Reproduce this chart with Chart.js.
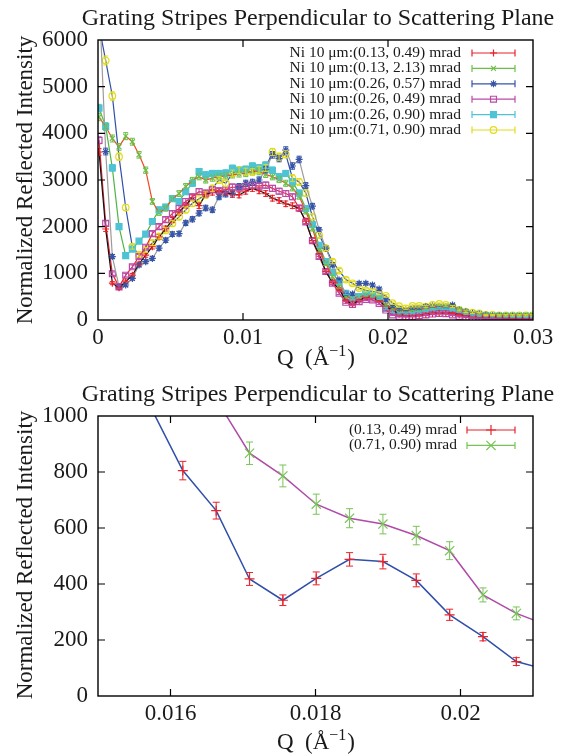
<!DOCTYPE html>
<html>
<head>
<meta charset="utf-8">
<script src="https://cdn.jsdelivr.net/npm/chart.js@4/dist/chart.umd.min.js"></script>
<style>
  html, body { margin: 0; padding: 0; background: #fff; }
  #wrap { position: relative; width: 567px; height: 754px; }
  .panel { position: absolute; left: 0; width: 567px; height: 377px; }
</style>
</head>
<body>
<div id="wrap">
  <div class="panel" style="top:0"><canvas id="overview" width="567" height="377"></canvas></div>
  <div class="panel" style="top:377px"><canvas id="detail" width="567" height="377"></canvas></div>
</div>
<script>
// ---- momentum transfer grid (1/Å) ----
const qGrid = [
  0.00007, 0.00053, 0.00099, 0.00145, 0.00191, 0.00237, 0.00283, 0.00329, 0.00375, 0.00421,
  0.00467, 0.00513, 0.00559, 0.00605, 0.00651, 0.00697, 0.00743, 0.00789, 0.00835, 0.00881,
  0.00927, 0.00973, 0.01019, 0.01065, 0.01111, 0.01157, 0.01203, 0.01249, 0.01295, 0.01341,
  0.01387, 0.01433, 0.01479, 0.01525, 0.01571, 0.01617, 0.01663, 0.01709, 0.01755, 0.01801,
  0.01847, 0.01893, 0.01939, 0.01985, 0.02031, 0.02077, 0.02123, 0.02169, 0.02215, 0.02261,
  0.02307, 0.02353, 0.02399, 0.02445, 0.02491, 0.02537, 0.02583, 0.02629, 0.02675, 0.02721,
  0.02767, 0.02813, 0.02859, 0.02905, 0.02951, 0.02997
];

// ---- normalized reflected intensity, one list per slit setting ----
const ni_013_049 = [
  3600, 1950, 790, 690, 820, 960, 1200, 1390, 1570, 1780,
  1960, 2140, 2310, 2460, 2620, 2450, 2690, 2740, 2750, 2740,
  2690, 2680, 2760, 2820, 2770, 2710, 2610, 2560, 2490, 2450,
  2390, 2120, 1700, 1410, 1040, 805, 662, 418, 342, 420,
  488, 480, 413, 290, 212, 123, 92, 90, 100, 120,
  140, 150, 150, 140, 115, 92, 78, 70, 64, 60,
  55, 52, 48, 45, 44, 42
];
const ni_013_213 = [
  4350, 4140, 3890, 3710, 3940, 3820, 3540, 3210, 2540, 2300,
  2390, 2600, 2710, 2860, 2990, 3070, 3000, 3040, 3070, 3090,
  3110, 3130, 3140, 3200, 3180, 3120, 3070, 3010, 2930, 2830,
  2650, 2330, 1960, 1500, 1210, 930, 714, 500, 464, 500,
  536, 514, 464, 321, 250, 214, 200, 214, 229, 250,
  271, 286, 300, 286, 229, 179, 143, 128, 115, 110,
  107, 105, 105, 107, 107, 107
];
const ni_026_057 = [
  7000, 3610, 1360, 714, 750, 890, 1180, 1250, 1320, 1540,
  1710, 1840, 1850, 2080, 2160, 2290, 2400, 2360, 2640, 2700,
  2720, 2860, 2930, 2950, 3000, 3220, 3540, 3460, 3640, 3300,
  3440, 2880, 2440, 1930, 1540, 1180, 857, 557, 557, 786,
  786, 750, 664, 429, 286, 229, 214, 250, 250, 286,
  300, 286, 286, 321, 214, 179, 143, 129, 107, 93,
  90, 85, 85, 80, 80, 80
];
const ni_026_049 = [
  3850, 2070, 990, 710, 960, 1140, 1360, 1560, 1850, 2000,
  2150, 2280, 2390, 2540, 2640, 2750, 2720, 2790, 2770, 2790,
  2850, 2830, 2860, 2890, 2870, 2890, 2820, 2760, 2710, 2640,
  2400, 2100, 1700, 1360, 1040, 790, 575, 380, 336, 393,
  443, 430, 357, 214, 110, 75, 72, 75, 95, 108,
  128, 140, 138, 108, 75, 60, 40, 36, 30, 25,
  18, 15, 15, 18, 20, 22
];
const ni_026_090 = [
  4540, 4150, 3260, 2000, 1380, 1520, 1690, 1840, 2110, 2360,
  2420, 2600, 2540, 2750, 2930, 3180, 3110, 3140, 3140, 3150,
  3250, 3210, 3230, 3300, 3260, 3320, 3210, 3070, 3140, 2960,
  2720, 2390, 2040, 1600, 1250, 1020, 800, 571, 464, 500,
  557, 536, 464, 250, 179, 143, 140, 150, 170, 200,
  230, 250, 240, 215, 180, 130, 100, 90, 80, 75,
  72, 70, 68, 66, 65, 65
];
const ni_071_090 = [
  6300, 5560, 4800, 3500, 2410, 1570, 1400, 1500, 1650, 1790,
  1920, 2070, 2210, 2360, 2500, 2600, 2680, 2820, 3000, 2930,
  3140, 3210, 3180, 3170, 3220, 3260, 3600, 3500, 3550, 3040,
  2960, 2720, 2210, 1820, 1540, 1250, 1060, 867, 786, 685,
  635, 614, 573, 519, 361, 295, 250, 300, 300, 286,
  321, 343, 321, 286, 214, 179, 157, 143, 107, 107,
  100, 100, 100, 100, 100, 100
];
const overviewLabels = [
  'Ni 10 μm:(0.13, 0.49) mrad',
  'Ni 10 μm:(0.13, 2.13) mrad',
  'Ni 10 μm:(0.26, 0.57) mrad',
  'Ni 10 μm:(0.26, 0.49) mrad',
  'Ni 10 μm:(0.26, 0.90) mrad',
  'Ni 10 μm:(0.71, 0.90) mrad'
];
// counting-statistics sigma factor per setting (sigma = k * sqrt(I))
const overviewSigmaFactor = [1.2, 1.2, 1.2, 1.2, 1.2, 1.3];

// ---- close-up of the Kiessig region ----
const detailQ = [0.01571, 0.01617, 0.01663, 0.01709, 0.01755, 0.01801, 0.01847, 0.01893, 0.01939, 0.01985, 0.02031, 0.02077, 0.02123];
const detailNarrow = [1040, 805, 662, 418, 342, 420, 488, 480, 413, 290, 212, 123, 92];
const detailNarrowErr = [38, 33, 30, 23, 19, 23, 24, 26, 23, 20, 15, 14, 12];
const detailWide = [1540, 1250, 1060, 867, 786, 685, 635, 614, 573, 519, 361, 295, 250];
const detailWideErr = [52, 48, 44, 40, 39, 36, 34, 35, 33, 32, 25, 23, 21];
const detailLabels = ['(0.13, 0.49) mrad', '(0.71, 0.90) mrad'];

// ---- axis ticks ----
const overviewXTicks = [0, 0.01, 0.02, 0.03];
const overviewXTickLabels = ['0', '0.01', '0.02', '0.03'];
const overviewYTicks = [0, 1000, 2000, 3000, 4000, 5000, 6000];
const overviewYTickLabels = ['0', '1000', '2000', '3000', '4000', '5000', '6000'];
const detailXTicks = [0.016, 0.018, 0.02];
const detailXTickLabels = ['0.016', '0.018', '0.02'];
const detailYTicks = [0, 200, 400, 600, 800, 1000];
const detailYTickLabels = ['0', '200', '400', '600', '800', '1000'];

const plotTitle = 'Grating Stripes Perpendicular to Scattering Plane';
const yAxisTitle = 'Normalized Reflected Intensity';

// ---------------------------------------------------------------
const serif = "'Liberation Serif', 'DejaVu Serif', serif";

const overviewStyles = [
  { marker: '#e8232b', line: '#111111', shape: 'cross',    fill: false, r: 3.5 },
  { marker: '#6dbe48', line: '#f04a1e', shape: 'crossRot', fill: false, r: 3.5 },
  { marker: '#3755a8', line: '#9b9b9b', shape: 'star',     fill: false, r: 3.5 },
  { marker: '#bb4ba8', line: '#ee2030', shape: 'rect',     fill: false, r: 4.2 },
  { marker: '#4ec3d4', line: '#4fb545', shape: 'rect',     fill: true,  r: 4.2 },
  { marker: '#e2dc1c', line: '#2f4fa8', shape: 'circle',   fill: false, r: 3.3 }
];
const detailStyles = [
  { marker: '#e8232b', line: '#2f4fa8', shape: 'cross',    fill: false, r: 5 },
  { marker: '#77c456', line: '#b04aa8', shape: 'crossRot', fill: false, r: 6.5 }
];

function makeDataset(label, xs, ys, errs, st, lw) {
  return {
    label,
    data: xs.map((q, i) => ({ x: q, y: ys[i] })),
    errors: errs,
    borderColor: st.line,
    borderWidth: lw,
    tension: 0,
    pointStyle: st.shape,
    pointRadius: st.r,
    pointBorderColor: st.marker,
    pointBackgroundColor: st.fill ? st.marker : 'rgba(0,0,0,0)',
    pointBorderWidth: 1.2
  };
}

function axis(min, max, ticks, labels, fitProp, fitSize, pad) {
  return {
    type: 'linear', min, max,
    grid: { display: false, drawTicks: false },
    border: { display: false },
    afterBuildTicks: s => { s.ticks = ticks.map(v => ({ value: v })); },
    afterFit: s => { s[fitProp] = fitSize; },
    ticks: {
      autoSkip: false, maxRotation: 0, minRotation: 0, padding: pad,
      color: '#1a1a1a', font: { family: serif, size: 23 },
      callback: (v, i) => labels[i]
    }
  };
}

// box, inward ticks, titles, error bars and key
const frame = {
  id: 'frame',
  afterDatasetsDraw(chart, args, o) {
    const { ctx, chartArea: a } = chart;
    const ys = chart.scales.y;
    ctx.save();
    ctx.beginPath();
    ctx.rect(a.left, a.top, a.right - a.left, a.bottom - a.top);
    ctx.clip();
    chart.data.datasets.forEach((ds, i) => {
      const meta = chart.getDatasetMeta(i);
      ctx.strokeStyle = ds.pointBorderColor;
      ctx.lineWidth = 1;
      meta.data.forEach((pt, j) => {
        const v = ds.data[j].y, e = ds.errors[j];
        const y1 = ys.getPixelForValue(v + e), y2 = ys.getPixelForValue(v - e);
        ctx.beginPath();
        ctx.moveTo(pt.x, y1); ctx.lineTo(pt.x, y2);
        ctx.moveTo(pt.x - o.cap, y1); ctx.lineTo(pt.x + o.cap, y1);
        ctx.moveTo(pt.x - o.cap, y2); ctx.lineTo(pt.x + o.cap, y2);
        ctx.stroke();
      });
    });
    ctx.restore();
  },
  afterDraw(chart, args, o) {
    const { ctx, chartArea: a } = chart;
    const xs = chart.scales.x, ys = chart.scales.y;
    ctx.save();
    // frame
    ctx.strokeStyle = '#000';
    ctx.lineWidth = 1.4;
    ctx.strokeRect(a.left, a.top, a.right - a.left, a.bottom - a.top);
    // inward tick marks, mirrored on the opposite side
    ctx.lineWidth = 1.2;
    const tl = 7;
    ctx.beginPath();
    xs.ticks.forEach(t => {
      const px = xs.getPixelForValue(t.value);
      if (px - a.left < 1 || a.right - px < 1) return;
      ctx.moveTo(px, a.bottom); ctx.lineTo(px, a.bottom - tl);
      ctx.moveTo(px, a.top); ctx.lineTo(px, a.top + tl);
    });
    ys.ticks.forEach(t => {
      const py = ys.getPixelForValue(t.value);
      if (py - a.top < 1 || a.bottom - py < 1) return;
      ctx.moveTo(a.left, py); ctx.lineTo(a.left + tl, py);
      ctx.moveTo(a.right, py); ctx.lineTo(a.right - tl, py);
    });
    ctx.stroke();

    ctx.fillStyle = '#1a1a1a';
    // plot title
    ctx.font = '24px ' + serif;
    ctx.textAlign = 'center';
    ctx.textBaseline = 'alphabetic';
    ctx.fillText(plotTitle, o.titleX, o.titleBase);

    // y axis title
    ctx.save();
    ctx.translate(o.yTitleX, o.yTitleY);
    ctx.rotate(-Math.PI / 2);
    ctx.font = '23px ' + serif;
    ctx.textBaseline = 'middle';
    ctx.fillText(yAxisTitle, 0, 0);
    ctx.restore();

    // x axis title: Q (Å^-1)
    const big = '23px ' + serif, small = '16px ' + serif;
    const p1 = 'Q  (Å', p2 = '−1', p3 = ')';
    ctx.font = big; const w1 = ctx.measureText(p1).width, w3 = ctx.measureText(p3).width;
    ctx.font = small; const w2 = ctx.measureText(p2).width;
    let x0 = (a.left + a.right) / 2 - (w1 + w2 + w3) / 2;
    ctx.textAlign = 'left';
    ctx.font = big; ctx.fillText(p1, x0, o.xTitleBase);
    ctx.font = small; ctx.fillText(p2, x0 + w1, o.xTitleBase - 9);
    ctx.font = big; ctx.fillText(p3, x0 + w1 + w2 + 1, o.xTitleBase);

    // key
    ctx.font = o.keyFont + 'px ' + serif;
    ctx.textBaseline = 'middle';
    chart.data.datasets.forEach((ds, i) => {
      const y = o.keyTop + i * o.keyStep;
      ctx.fillStyle = '#1a1a1a';
      ctx.textAlign = 'right';
      ctx.fillText(ds.label, o.keyTextRight, y);
      ctx.strokeStyle = ds.pointBorderColor;
      ctx.lineWidth = 1.2;
      ctx.beginPath();
      ctx.moveTo(o.keyX0, y); ctx.lineTo(o.keyX1, y);
      ctx.moveTo(o.keyX0, y - 3.5); ctx.lineTo(o.keyX0, y + 3.5);
      ctx.moveTo(o.keyX1, y - 3.5); ctx.lineTo(o.keyX1, y + 3.5);
      ctx.stroke();
      ctx.fillStyle = ds.pointBackgroundColor;
      Chart.helpers.drawPoint(ctx, {
        pointStyle: ds.pointStyle, radius: ds.pointRadius, borderWidth: 1.2, rotation: 0
      }, (o.keyX0 + o.keyX1) / 2, y);
    });
    ctx.restore();
  }
};

function build(canvasId, datasets, xAxis, yAxis, padTop, frameOpts) {
  return new Chart(document.getElementById(canvasId), {
    type: 'line',
    data: { datasets },
    options: {
      responsive: false,
      animation: false,
      events: [],
      layout: { padding: { left: 0, right: 34, top: padTop, bottom: 0 } },
      plugins: { legend: { display: false }, tooltip: { enabled: false }, title: { display: false }, frame: frameOpts },
      scales: { x: xAxis, y: yAxis }
    },
    plugins: [frame]
  });
}

// overview panel
const overviewSeries = [ni_013_049, ni_013_213, ni_026_057, ni_026_049, ni_026_090, ni_071_090];
const overviewSets = overviewSeries.map((vals, i) =>
  makeDataset(overviewLabels[i], qGrid, vals,
    vals.map(v => overviewSigmaFactor[i] * Math.sqrt(v)), overviewStyles[i], 1.2));

build('overview', overviewSets,
  axis(0, 0.03, overviewXTicks, overviewXTickLabels, 'height', 57, 4),
  axis(0, 6000, overviewYTicks, overviewYTickLabels, 'width', 98, 10),
  40,
  { cap: 2.5, titleX: 318, titleBase: 25, yTitleX: 26, yTitleY: 180, xTitleBase: 365,
    keyFont: 15.5, keyTop: 53, keyStep: 15.4, keyTextRight: 461, keyX0: 472, keyX1: 515 });

// detail panel
const detailSets = [
  makeDataset(detailLabels[0], detailQ, detailNarrow, detailNarrowErr, detailStyles[0], 1.5),
  makeDataset(detailLabels[1], detailQ, detailWide, detailWideErr, detailStyles[1], 1.5)
];
build('detail', detailSets,
  axis(0.015, 0.021, detailXTicks, detailXTickLabels, 'height', 58, 4),
  axis(0, 1000, detailYTicks, detailYTickLabels, 'width', 98, 10),
  39,
  { cap: 3.5, titleX: 318, titleBase: 24, yTitleX: 26, yTitleY: 178, xTitleBase: 372,
    keyFont: 15.5, keyTop: 53, keyStep: 15.4, keyTextRight: 457, keyX0: 467, keyX1: 515 });
</script>
</body>
</html>
